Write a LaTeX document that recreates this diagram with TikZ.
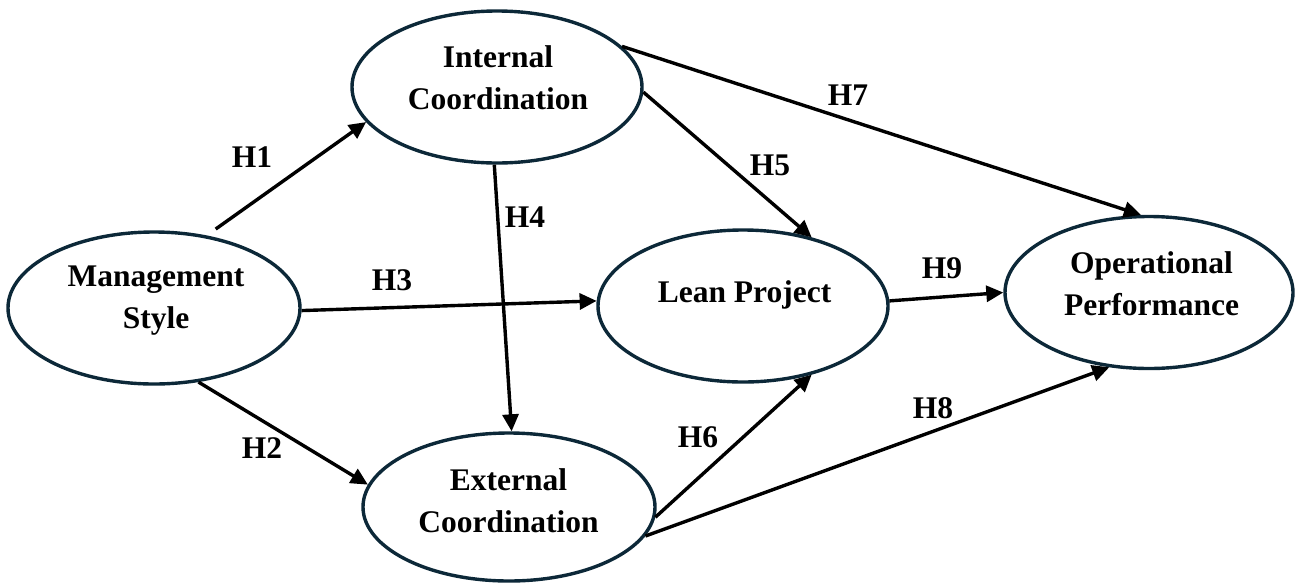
\documentclass[tikz,border=0pt]{standalone}
\usepackage{fontspec}
\setmainfont{Liberation Serif}
\usetikzlibrary{arrows.meta,shapes.geometric}
\definecolor{ring}{RGB}{12,40,56}
\begin{document}
\begin{tikzpicture}[x=1pt,y=-1pt,
  ell/.style={ellipse, draw=ring, line width=3.4pt, inner sep=0pt, minimum width=290pt, minimum height=152pt},
  txt/.style={font=\fontsize{31.5}{42}\selectfont\bfseries, align=center, inner sep=0pt},
  lab/.style={font=\fontsize{31.5}{42}\selectfont\bfseries, inner sep=0pt},
  arr/.style={line width=3.4pt, -{Triangle[length=17pt,width=16pt]}}]
\useasboundingbox (0,0) rectangle (1295,582);
% ellipses
\node[ell, minimum width=292pt] (ms) at (154,308) {};
\node[ell] (ic) at (497,87) {};
\node[ell, minimum width=292pt, minimum height=148pt] (ec) at (509,507) {};
\node[ell] (lp) at (743,306) {};
\node[ell, minimum width=288pt] (op) at (1149,292.5) {};
% texts
\node[txt] (msT) at (156,301) {Management\\Style};
\node[txt] (icT) at (498,77.5) {Internal\\Coordination};
\node[txt] (ecT) at (508.5,501) {External\\Coordination};
\node[txt] (lpT) at (744.5,295) {Lean Project};
\node[txt] (opT) at (1151.5,283.5) {Operational\\Performance};
% connectors
\draw[arr, shorten <=11pt] (ms.54) -- (ic.195);
\draw[arr] (ms.-59) -- (ec.171);
\draw[arr] (ms.-1) -- (lp.178);
\draw[arr] (ic.268) -- (ec.88);
\draw[arr] (ic.-2) -- (lp.45);
\draw[arr] (ec.-4) -- (lp.-45);
\draw[arr] (ic.18) -- (op.96);
\draw[arr] (ec.-12) -- (op.242);
\draw[arr] (lp.2) -- (op.180);
% labels
\node[lab] (h1) at (252,157) {H1};
\node[lab] (h2) at (262,448) {H2};
\node[lab] (h3) at (392,280) {H3};
\node[lab] (h4) at (525,217) {H4};
\node[lab] (h5) at (770,165) {H5};
\node[lab] (h6) at (698,437) {H6};
\node[lab] (h7) at (848,95) {H7};
\node[lab] (h8) at (933,408) {H8};
\node[lab] (h9) at (942,268) {H9};
\end{tikzpicture}
\end{document}
